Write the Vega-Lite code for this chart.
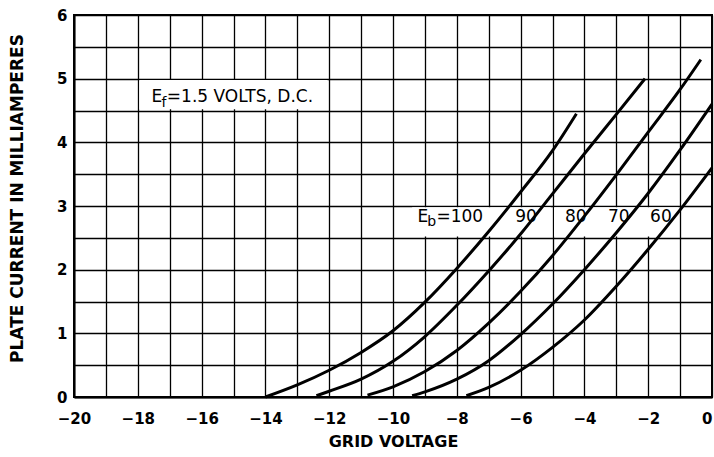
{
  "$schema": "https://vega.github.io/schema/vega-lite/v6.json",
  "width": 638,
  "height": 382,
  "autosize": {"type": "none"},
  "padding": {"left": 74, "top": 15, "right": 2, "bottom": 60},
  "background": "white",
  "config": {
    "view": {"stroke": "black", "strokeWidth": 2},
    "font": "DejaVu Sans"
  },
  "datasets": {
    "curves": [
      {"eb": 100, "v": -14, "i": 0}, {"eb": 100, "v": -13, "i": 0.19}, {"eb": 100, "v": -12, "i": 0.42}, {"eb": 100, "v": -11, "i": 0.7}, {"eb": 100, "v": -10, "i": 1.04}, {"eb": 100, "v": -9, "i": 1.49}, {"eb": 100, "v": -8, "i": 2.02}, {"eb": 100, "v": -7, "i": 2.6}, {"eb": 100, "v": -6, "i": 3.22}, {"eb": 100, "v": -5, "i": 3.87}, {"eb": 100, "v": -4.25, "i": 4.45},
      {"eb": 90, "v": -12.4, "i": 0.02}, {"eb": 90, "v": -12, "i": 0.09}, {"eb": 90, "v": -11, "i": 0.28}, {"eb": 90, "v": -10, "i": 0.56}, {"eb": 90, "v": -9, "i": 0.95}, {"eb": 90, "v": -8, "i": 1.44}, {"eb": 90, "v": -7, "i": 1.98}, {"eb": 90, "v": -6, "i": 2.56}, {"eb": 90, "v": -5, "i": 3.19}, {"eb": 90, "v": -4, "i": 3.82}, {"eb": 90, "v": -3, "i": 4.44}, {"eb": 90, "v": -2.1, "i": 5.0},
      {"eb": 80, "v": -10.8, "i": 0.03}, {"eb": 80, "v": -10, "i": 0.16}, {"eb": 80, "v": -9, "i": 0.4}, {"eb": 80, "v": -8, "i": 0.73}, {"eb": 80, "v": -7, "i": 1.16}, {"eb": 80, "v": -6, "i": 1.66}, {"eb": 80, "v": -5, "i": 2.22}, {"eb": 80, "v": -4, "i": 2.84}, {"eb": 80, "v": -3, "i": 3.49}, {"eb": 80, "v": -2, "i": 4.16}, {"eb": 80, "v": -1, "i": 4.83}, {"eb": 80, "v": -0.35, "i": 5.3},
      {"eb": 70, "v": -9.4, "i": 0.02}, {"eb": 70, "v": -9, "i": 0.08}, {"eb": 70, "v": -8, "i": 0.28}, {"eb": 70, "v": -7, "i": 0.57}, {"eb": 70, "v": -6, "i": 0.98}, {"eb": 70, "v": -5, "i": 1.46}, {"eb": 70, "v": -4, "i": 2.0}, {"eb": 70, "v": -3, "i": 2.58}, {"eb": 70, "v": -2, "i": 3.2}, {"eb": 70, "v": -1, "i": 3.88}, {"eb": 70, "v": 0, "i": 4.6},
      {"eb": 60, "v": -7.7, "i": 0.02}, {"eb": 60, "v": -7, "i": 0.15}, {"eb": 60, "v": -6, "i": 0.42}, {"eb": 60, "v": -5, "i": 0.78}, {"eb": 60, "v": -4, "i": 1.21}, {"eb": 60, "v": -3, "i": 1.74}, {"eb": 60, "v": -2, "i": 2.32}, {"eb": 60, "v": -1, "i": 2.94}, {"eb": 60, "v": 0, "i": 3.6}
    ],
    "boxes": [
      {"v": -17.95, "v2": -12.05, "i": 4.52, "i2": 4.98},
      {"v": -9.4, "v2": -5.05, "i": 2.52, "i2": 2.98},
      {"v": -4.95, "v2": -1.05, "i": 2.52, "i2": 2.98}
    ],
    "labels": [
      {"t": "E", "v": -17.57, "i": 4.64},
      {"t": "=1.5 VOLTS, D.C.", "v": -17.09, "i": 4.64},
      {"t": "E", "v": -9.23, "i": 2.755},
      {"t": "=100", "v": -8.64, "i": 2.755},
      {"t": "90", "v": -6.17, "i": 2.755},
      {"t": "80", "v": -4.61, "i": 2.755},
      {"t": "70", "v": -3.26, "i": 2.755},
      {"t": "60", "v": -1.94, "i": 2.755}
    ],
    "subs": [
      {"t": "f", "v": -17.26, "i": 4.56},
      {"t": "b", "v": -8.93, "i": 2.69}
    ]
  },
  "encoding": {
    "x": {"field": "v", "type": "quantitative", "scale": {"domain": [-20, 0], "nice": false, "zero": false},
      "axis": {
        "values": [-20, -19, -18, -17, -16, -15, -14, -13, -12, -11, -10, -9, -8, -7, -6, -5, -4, -3, -2, -1, 0],
        "labelExpr": "datum.value % 2 === 0 ? format(datum.value, 'd') : ''",
        "grid": true, "gridColor": "black", "gridWidth": 1.3, "gridOpacity": 1,
        "ticks": false, "domain": true, "domainColor": "black", "domainWidth": 2,
        "labelFont": "DejaVu Sans", "labelFontWeight": "bold", "labelFontSize": 15, "labelColor": "black",
        "labelPadding": 14, "labelOverlap": false,
        "labelAlign": {"condition": {"test": "datum.value === 0", "value": "right"}, "value": "center"},
        "title": "GRID VOLTAGE", "titleFont": "DejaVu Sans", "titleFontSize": 16, "titleFontWeight": "bold", "titleColor": "black", "titlePadding": 7
      }
    },
    "y": {"field": "i", "type": "quantitative", "scale": {"domain": [0, 6], "nice": false},
      "axis": {
        "values": [0, 0.5, 1, 1.5, 2, 2.5, 3, 3.5, 4, 4.5, 5, 5.5, 6],
        "labelExpr": "datum.value % 1 === 0 ? format(datum.value, 'd') : ''",
        "grid": true, "gridColor": "black", "gridWidth": 1.3, "gridOpacity": 1,
        "ticks": false, "domain": true, "domainColor": "black", "domainWidth": 2,
        "labelFont": "DejaVu Sans", "labelFontWeight": "bold", "labelFontSize": 15, "labelColor": "black",
        "labelPadding": 7, "labelOverlap": false,
        "title": "PLATE CURRENT IN MILLIAMPERES", "titleFont": "DejaVu Sans", "titleFontSize": 17, "titleFontWeight": "bold", "titleColor": "black", "titlePadding": 30, "titleY": 183
      }
    }
  },
  "layer": [
    {
      "data": {"name": "boxes"},
      "mark": {"type": "rect", "fill": "white", "stroke": null},
      "encoding": {
        "x2": {"field": "v2"},
        "y2": {"field": "i2"}
      }
    },
    {
      "data": {"name": "curves"},
      "mark": {"type": "line", "interpolate": "monotone", "strokeWidth": 3, "color": "black"},
      "encoding": {
        "detail": {"field": "eb", "type": "nominal"}
      }
    },
    {
      "data": {"name": "labels"},
      "mark": {"type": "text", "align": "left", "baseline": "alphabetic", "font": "DejaVu Sans", "fontSize": 17, "color": "black"},
      "encoding": {
        "text": {"field": "t"}
      }
    },
    {
      "data": {"name": "subs"},
      "mark": {"type": "text", "align": "left", "baseline": "alphabetic", "font": "DejaVu Sans", "fontSize": 14, "color": "black"},
      "encoding": {
        "text": {"field": "t"}
      }
    }
  ]
}
